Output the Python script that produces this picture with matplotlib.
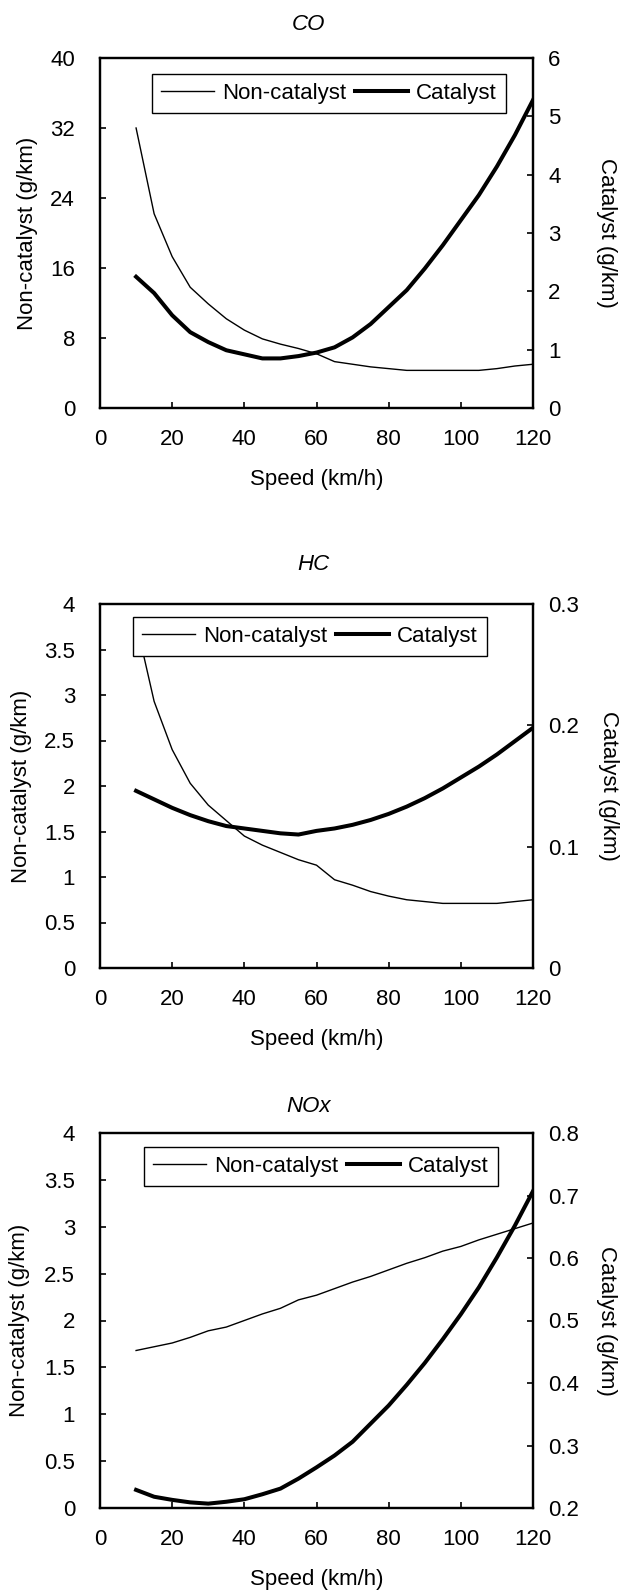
import matplotlib
matplotlib.use("Agg")
import matplotlib.pyplot as plt

plt.rcParams['font.family'] = ['Liberation Sans', 'DejaVu Sans']
plt.rcParams['font.size'] = 16

# velocidades (km/h)
speed = [10, 15, 20, 25, 30, 35, 40, 45, 50, 55, 60, 65,
         70, 75, 80, 85, 90, 95, 100, 105, 110, 115, 120]

# CO (g/km)
co_non = [32.0, 22.2, 17.3, 13.8, 11.9, 10.2, 8.9, 7.9, 7.3, 6.8, 6.2, 5.3,
          5.0, 4.7, 4.5, 4.3, 4.3, 4.3, 4.3, 4.3, 4.5, 4.8, 5.0]
co_cat = [2.25, 1.97, 1.59, 1.30, 1.13, 0.99, 0.92, 0.85, 0.85, 0.89, 0.95, 1.04,
          1.21, 1.44, 1.73, 2.02, 2.39, 2.79, 3.22, 3.65, 4.14, 4.68, 5.28]

# HC (g/km)
hc_non = [3.8, 2.93, 2.40, 2.03, 1.79, 1.62, 1.45, 1.35, 1.27, 1.19, 1.13, 0.97,
          0.91, 0.84, 0.79, 0.75, 0.73, 0.71, 0.71, 0.71, 0.71, 0.73, 0.75]
hc_cat = [0.146, 0.139, 0.132, 0.126, 0.121, 0.117, 0.115, 0.113, 0.111, 0.110, 0.113, 0.115,
          0.118, 0.122, 0.127, 0.133, 0.140, 0.148, 0.157, 0.166, 0.176, 0.187, 0.198]

# NOx (g/km)
nox_non = [1.68, 1.72, 1.76, 1.82, 1.89, 1.93, 2.00, 2.07, 2.13, 2.22, 2.27, 2.34,
           2.41, 2.47, 2.54, 2.61, 2.67, 2.74, 2.79, 2.86, 2.92, 2.98, 3.04]
nox_cat = [0.229, 0.218, 0.213, 0.209, 0.207, 0.210, 0.214, 0.222, 0.231, 0.247, 0.265, 0.284,
           0.306, 0.335, 0.364, 0.397, 0.432, 0.470, 0.510, 0.553, 0.601, 0.652, 0.707]

titulos = ['CO', 'HC', 'NOx']
izq_ticks = [[0, 8, 16, 24, 32, 40],
             [0, 0.5, 1, 1.5, 2, 2.5, 3, 3.5, 4],
             [0, 0.5, 1, 1.5, 2, 2.5, 3, 3.5, 4]]
izq_etiq = [['0', '8', '16', '24', '32', '40'],
            ['0', '0.5', '1', '1.5', '2', '2.5', '3', '3.5', '4'],
            ['0', '0.5', '1', '1.5', '2', '2.5', '3', '3.5', '4']]
der_ticks = [[0, 1, 2, 3, 4, 5, 6],
             [0, 0.1, 0.2, 0.3],
             [0.2, 0.3, 0.4, 0.5, 0.6, 0.7, 0.8]]
der_etiq = [['0', '1', '2', '3', '4', '5', '6'],
            ['0', '0.1', '0.2', '0.3'],
            ['0.2', '0.3', '0.4', '0.5', '0.6', '0.7', '0.8']]
x_ticks = [0, 20, 40, 60, 80, 100, 120]

datos = [(co_non, co_cat), (hc_non, hc_cat), (nox_non, nox_cat)]

W, H = 624, 1591
fig = plt.figure(figsize=(W / 100, H / 100), dpi=100)

# posiciones en pixeles: (arriba, abajo), titulo, etiquetas y, leyenda
cajas = [(58, 408), (604, 968), (1133, 1508)]
tit_xy = [(308, 24), (313, 565), (309, 1107)]
lab_izq = [27, 21, 19]
lab_der = [606, 609, 607]
ley_pos = [(152, 74), (133, 617), (144, 1147)]
L, R = 100, 533

for i in range(3):
    top, bot = cajas[i]
    ax = fig.add_axes([L / W, 1 - bot / H, (R - L) / W, (bot - top) / H])
    ax2 = ax.twinx()
    non, cat = datos[i]
    l1, = ax.plot(speed, non, color='black', lw=1.0, label='Non-catalyst')
    l2, = ax2.plot(speed, cat, color='black', lw=2.9, label='Catalyst')

    ax.set_xlim(0, 120)
    ax.set_xticks(x_ticks)
    ax.set_ylim(izq_ticks[i][0], izq_ticks[i][-1])
    ax.set_yticks(izq_ticks[i])
    ax.set_yticklabels(izq_etiq[i])
    ax2.set_ylim(der_ticks[i][0], der_ticks[i][-1])
    ax2.set_yticks(der_ticks[i])
    ax2.set_yticklabels(der_etiq[i])

    for a in (ax, ax2):
        for s in a.spines.values():
            s.set_linewidth(1.6)
    ax.tick_params(axis='x', direction='in', length=4.5, width=1.2, pad=15)
    ax.tick_params(axis='y', direction='in', length=4.5, width=1.2, pad=18)
    ax2.tick_params(axis='y', direction='in', length=4.5, width=1.2, pad=11)

    ax.set_xlabel('Speed (km/h)', labelpad=14)
    ax.set_ylabel('Non-catalyst (g/km)', va='center')
    ax.yaxis.set_label_coords((lab_izq[i] - L) / (R - L), 0.5)
    ax2.set_ylabel('Catalyst (g/km)', rotation=270, va='center')
    ax2.yaxis.set_label_coords((lab_der[i] - L) / (R - L), 0.5)

    fig.text(tit_xy[i][0] / W, 1 - tit_xy[i][1] / H, titulos[i],
             style='italic', ha='center', va='center')

    lx, ly = ley_pos[i]
    leg = ax2.legend([l1, l2], ['Non-catalyst', 'Catalyst'], ncol=2,
                     loc='upper left',
                     bbox_to_anchor=((lx - L) / (R - L), 1 - (ly - top) / (bot - top)),
                     borderaxespad=0, frameon=True, fancybox=False,
                     edgecolor='black', framealpha=1, handlelength=2.4,
                     handletextpad=0.35, columnspacing=0.4, borderpad=0.4)
    leg.get_frame().set_linewidth(1.0)

fig.savefig('out.png', dpi=100)
